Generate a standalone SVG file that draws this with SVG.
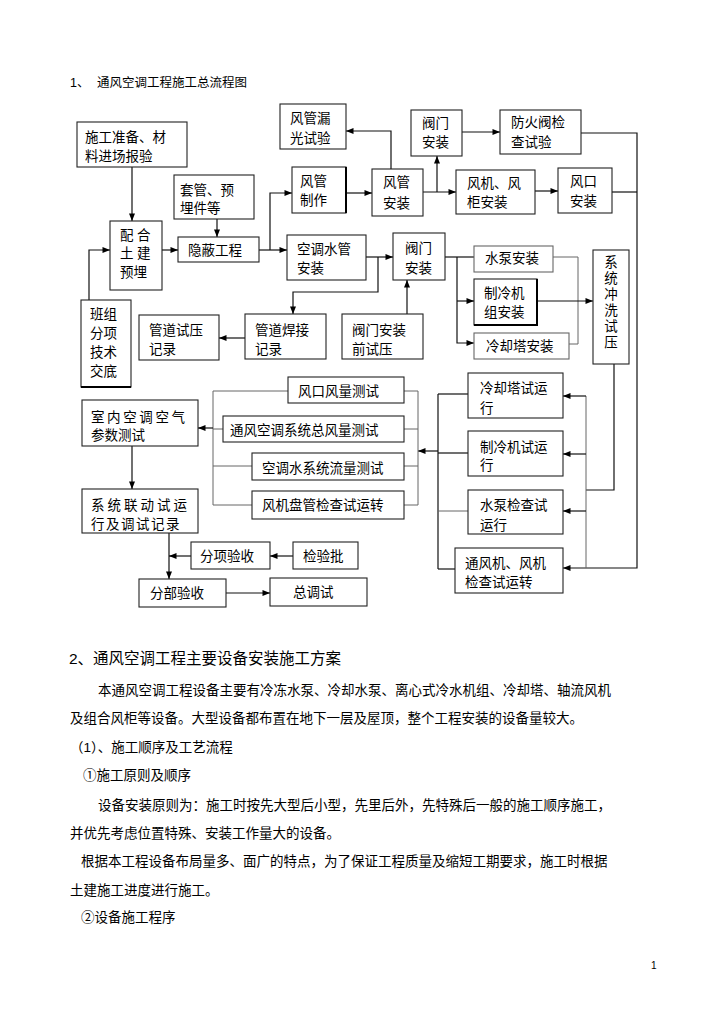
<svg xmlns="http://www.w3.org/2000/svg" width="724" height="1024" viewBox="0 0 724 1024">
<style>
text{font-family:"Liberation Sans","Noto Sans CJK SC",sans-serif;fill:#000}
.t{font-size:13.5px}
.b{font-size:13.5px}
.h1{font-size:12.5px}
.h2{font-size:15.5px}
.pg{font-size:10px}
.box{fill:#fff;stroke:#222;stroke-width:1.1}
.ln{fill:none;stroke:#111;stroke-width:1.2}
.lg{fill:none;stroke:#666;stroke-width:1}
</style>
<defs>
<marker id="ah" viewBox="0 0 10 8" refX="10" refY="4" markerWidth="8" markerHeight="6" markerUnits="userSpaceOnUse" orient="auto">
<path d="M0,0 L10,4 L0,8 z" fill="#000"/>
</marker>
</defs>
<rect width="724" height="1024" fill="#fff"/>

<text class="h1" x="70" y="87">1、</text>
<text class="h1" x="97" y="87">通风空调工程施工总流程图</text>

<g id="connectors">
<path class="ln" d="M132,167 V221" marker-end="url(#ah)"/>
<path class="ln" d="M89,300 V250 H110" marker-end="url(#ah)"/>
<path class="ln" d="M217,219 V237" marker-end="url(#ah)"/>
<path class="ln" d="M162,250 H178" marker-end="url(#ah)"/>
<path class="ln" d="M259,250 H287" marker-end="url(#ah)"/>
<path class="ln" d="M270,250 V193 H292" marker-end="url(#ah)"/>
<path class="ln" d="M346,193 H372" marker-end="url(#ah)"/>
<path class="ln" d="M391,169 V131 H346" marker-end="url(#ah)"/>
<path class="ln" d="M423,192 H456" marker-end="url(#ah)"/>
<path class="ln" d="M437,192 V156" marker-end="url(#ah)"/>
<path class="ln" d="M462,132 H500" marker-end="url(#ah)"/>
<path class="ln" d="M535,191 H558" marker-end="url(#ah)"/>
<path class="ln" d="M581,133 H637 V568 H563" marker-end="url(#ah)"/>
<path class="ln" d="M612,192 H637"/>
<path class="ln" d="M366,257 H393" marker-end="url(#ah)"/>
<path class="ln" d="M378,257 V292 H293 V314" marker-end="url(#ah)"/>
<path class="ln" d="M245,338 H219" marker-end="url(#ah)"/>
<path class="ln" d="M407,314 V280" marker-end="url(#ah)"/>
<path class="ln" d="M445,257 H474"/>
<path class="ln" d="M457,257 V343 H474" marker-end="url(#ah)"/>
<path class="ln" d="M457,301 H474" marker-end="url(#ah)"/>
<path class="lg" d="M553,257 H578 V344 H569"/>
<path class="ln" d="M537,301 H593" marker-end="url(#ah)"/>
<path class="ln" d="M614,364 V490 H586"/>
<path class="lg" d="M586,396 V568"/>
<path class="ln" d="M586,396 H563" marker-end="url(#ah)"/>
<path class="ln" d="M586,454 H563" marker-end="url(#ah)"/>
<path class="ln" d="M586,511 H563" marker-end="url(#ah)"/>
<path class="ln" d="M438,394 V569"/>
<path class="ln" d="M468,394 H438"/>
<path class="ln" d="M468,453 H438"/>
<path class="lg" d="M468,511 H438"/>
<path class="ln" d="M455,569 H438"/>
<path class="ln" d="M438,451 H418" marker-end="url(#ah)"/>
<path class="lg" d="M418,391 V505"/>
<path class="lg" d="M404,391 H418"/>
<path class="lg" d="M404,429 H418"/>
<path class="lg" d="M404,466 H418"/>
<path class="lg" d="M404,505 H418"/>
<path class="lg" d="M213,391 V505"/>
<path class="lg" d="M213,391 H288"/>
<path class="lg" d="M213,429 H223"/>
<path class="lg" d="M213,466 H252"/>
<path class="lg" d="M213,505 H252"/>
<path class="ln" d="M213,428 H198" marker-end="url(#ah)"/>
<path class="ln" d="M132,446 V489" marker-end="url(#ah)"/>
<path class="ln" d="M169,533 V579" marker-end="url(#ah)"/>
<path class="ln" d="M191,556 H169" marker-end="url(#ah)"/>
<path class="ln" d="M293,556 H270" marker-end="url(#ah)"/>
<path class="ln" d="M226,593 H270" marker-end="url(#ah)"/>
</g>

<g id="n-prep"><rect class="box" x="77" y="122" width="110" height="45"/>
<text class="t" x="85" y="142">施工准备、材</text><text class="t" x="85" y="161">料进场报验</text></g>

<g id="n-leak"><rect class="box" x="280" y="104" width="66" height="45"/>
<text class="t" x="290" y="123">风管漏</text><text class="t" x="290" y="143">光试验</text></g>

<g id="n-sleeve"><rect class="box" x="174" y="175" width="80" height="44"/>
<text class="t" x="180" y="195">套管、预</text><text class="t" x="180" y="213">埋件等</text></g>

<g id="n-duct-make"><rect class="box" x="292" y="167" width="54" height="46"/>
<path d="M346,167 V213" stroke="#000" stroke-width="2"/>
<text class="t" x="300" y="186">风管</text><text class="t" x="300" y="205">制作</text></g>

<g id="n-civil"><rect class="box" x="110" y="221" width="52" height="69"/>
<text class="t" x="120" y="240" letter-spacing="3.5">配合</text>
<text class="t" x="120" y="258" letter-spacing="3.5">土建</text>
<text class="t" x="120" y="277">预埋</text></g>

<g id="n-hidden"><rect class="box" x="178" y="237" width="81" height="25"/>
<text class="t" x="188" y="255">隐蔽工程</text></g>

<g id="n-water-pipe"><rect class="box" x="287" y="235" width="79" height="45"/>
<text class="t" x="297" y="254">空调水管</text><text class="t" x="297" y="273">安装</text></g>

<g id="n-duct-inst"><rect class="box" x="372" y="169" width="51" height="47"/>
<text class="t" x="383" y="187">风管</text><text class="t" x="383" y="208">安装</text></g>

<g id="n-valve-top"><rect class="box" x="411" y="110" width="51" height="46"/>
<text class="t" x="422" y="128">阀门</text><text class="t" x="422" y="147">安装</text></g>

<g id="n-fire-valve"><rect class="box" x="500" y="110" width="81" height="44"/>
<text class="t" x="511" y="127">防火阀检</text><text class="t" x="511" y="147">查试验</text></g>

<g id="n-fan"><rect class="box" x="456" y="170" width="79" height="44"/>
<text class="t" x="467" y="188">风机、风</text><text class="t" x="467" y="207">柜安装</text></g>

<g id="n-outlet"><rect class="box" x="558" y="168" width="54" height="45"/>
<text class="t" x="570" y="186">风口</text><text class="t" x="570" y="206">安装</text></g>

<g id="n-valve-mid"><rect class="box" x="393" y="233" width="52" height="47"/>
<text class="t" x="405" y="253">阀门</text><text class="t" x="405" y="273">安装</text></g>

<g id="n-pump"><rect class="box" x="474" y="246" width="79" height="26" style="stroke:#666"/>
<text class="t" x="485" y="263">水泵安装</text></g>

<g id="n-chiller"><rect class="box" x="474" y="279" width="63" height="46"/>
<path d="M537,279 V325 H474" fill="none" stroke="#000" stroke-width="2"/>
<text class="t" x="484" y="298">制冷机</text><text class="t" x="484" y="317">组安装</text></g>

<g id="n-tower"><rect class="box" x="474" y="333" width="95" height="26" style="stroke:#666"/>
<text class="t" x="486" y="351">冷却塔安装</text></g>

<g id="n-flush"><rect class="box" x="593" y="250" width="36" height="114"/>
<text class="t" x="611" y="267" text-anchor="middle">系</text>
<text class="t" x="611" y="283" text-anchor="middle">统</text>
<text class="t" x="611" y="299" text-anchor="middle">冲</text>
<text class="t" x="611" y="315" text-anchor="middle">洗</text>
<text class="t" x="611" y="331" text-anchor="middle">试</text>
<text class="t" x="611" y="347" text-anchor="middle">压</text></g>

<g id="n-team"><rect class="box" x="81" y="300" width="50" height="87"/>
<path d="M81,387 H131" stroke="#000" stroke-width="2"/>
<text class="t" x="90" y="319">班组</text><text class="t" x="90" y="338">分项</text>
<text class="t" x="90" y="357">技术</text><text class="t" x="90" y="376">交底</text></g>

<g id="n-press-rec"><rect class="box" x="139" y="315" width="80" height="45"/>
<text class="t" x="149" y="335">管道试压</text><text class="t" x="149" y="354">记录</text></g>

<g id="n-weld-rec"><rect class="box" x="245" y="314" width="81" height="45"/>
<text class="t" x="255" y="335">管道焊接</text><text class="t" x="255" y="354">记录</text></g>

<g id="n-valve-test"><rect class="box" x="342" y="314" width="81" height="45"/>
<text class="t" x="352" y="335">阀门安装</text><text class="t" x="352" y="354">前试压</text></g>

<g id="n-outlet-air"><rect class="box" x="288" y="377" width="116" height="26"/>
<text class="t" x="298" y="396">风口风量测试</text></g>

<g id="n-total-air"><rect class="box" x="223" y="416" width="181" height="26"/>
<text class="t" x="230" y="435">通风空调系统总风量测试</text></g>

<g id="n-water-flow"><rect class="box" x="252" y="453" width="152" height="27"/>
<text class="t" x="262" y="473">空调水系统流量测试</text></g>

<g id="n-fcu"><rect class="box" x="252" y="491" width="152" height="28"/>
<text class="t" x="262" y="510">风机盘管检查试运转</text></g>

<g id="n-indoor"><rect class="box" x="82" y="400" width="116" height="46"/>
<text class="t" x="91" y="422" letter-spacing="2.6">室内空调空气</text>
<text class="t" x="91" y="440">参数测试</text></g>

<g id="n-linkage"><rect class="box" x="82" y="489" width="116" height="44"/>
<text class="t" x="91" y="510" letter-spacing="3">系统联动试运</text>
<text class="t" x="91" y="529" letter-spacing="1.5">行及调试记录</text></g>

<g id="n-tower-run"><rect class="box" x="468" y="373" width="95" height="45"/>
<text class="t" x="480" y="393">冷却塔试运</text><text class="t" x="480" y="413">行</text></g>

<g id="n-chiller-run"><rect class="box" x="468" y="431" width="95" height="45"/>
<text class="t" x="480" y="452">制冷机试运</text><text class="t" x="480" y="470">行</text></g>

<g id="n-pump-run"><rect class="box" x="468" y="490" width="95" height="44"/>
<text class="t" x="480" y="510">水泵检查试</text><text class="t" x="480" y="530">运行</text></g>

<g id="n-fan-run"><rect class="box" x="455" y="548" width="108" height="45"/>
<text class="t" x="465" y="568">通风机、风机</text><text class="t" x="465" y="587">检查试运转</text></g>

<g id="n-sub-acc"><rect class="box" x="191" y="542" width="79" height="27"/>
<text class="t" x="200" y="561">分项验收</text></g>

<g id="n-batch"><rect class="box" x="293" y="542" width="65" height="27"/>
<text class="t" x="303" y="561">检验批</text></g>

<g id="n-part-acc"><rect class="box" x="139" y="579" width="87" height="28"/>
<text class="t" x="150" y="598">分部验收</text></g>

<g id="n-total-tune"><rect class="box" x="270" y="578" width="97" height="28"/>
<text class="t" x="293" y="597">总调试</text></g>

<text class="h2" x="69" y="664">2、通风空调工程主要设备安装施工方案</text>
<text class="b" x="98" y="695">本通风空调工程设备主要有冷冻水泵、冷却水泵、离心式冷水机组、冷却塔、轴流风机</text>
<text class="b" x="70" y="723">及组合风柜等设备。大型设备都布置在地下一层及屋顶，整个工程安装的设备量较大。</text>
<text class="b" x="70" y="752">（1）、施工顺序及工艺流程</text>
<text class="b" x="83" y="780">①施工原则及顺序</text>
<text class="b" x="98" y="810">设备安装原则为：施工时按先大型后小型，先里后外，先特殊后一般的施工顺序施工，</text>
<text class="b" x="70" y="838">并优先考虑位置特殊、安装工作量大的设备。</text>
<text class="b" x="81" y="866">根据本工程设备布局量多、面广的特点，为了保证工程质量及缩短工期要求，施工时根据</text>
<text class="b" x="70" y="895">土建施工进度进行施工。</text>
<text class="b" x="81" y="922">②设备施工程序</text>
<text class="pg" x="651" y="969">1</text>
</svg>
